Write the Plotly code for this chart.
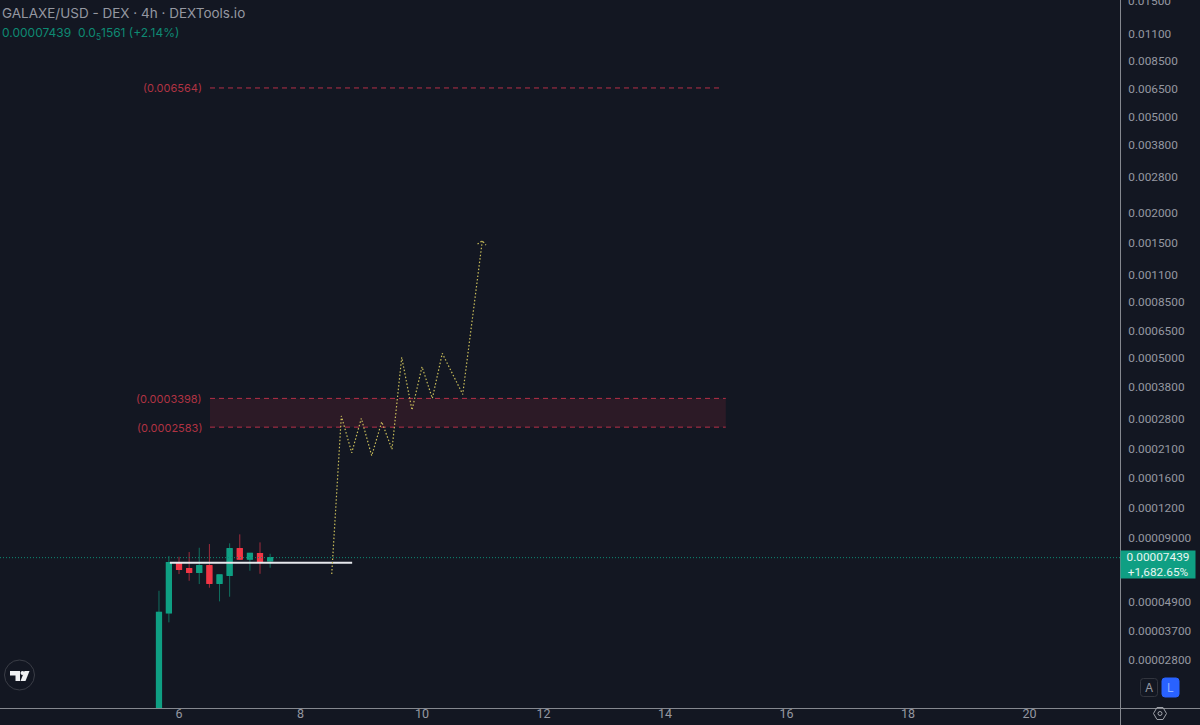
import math
import plotly.graph_objects as go

# Candles, one every four hours
candle_x = [5.67, 5.833, 6.0, 6.167, 6.333, 6.5, 6.667, 6.833, 7.0, 7.167, 7.333, 7.5]
opens = [1.5e-5, 4.40e-5, 7.045e-5, 6.692e-5, 6.465e-5, 6.886e-5, 5.822e-5, 6.282e-5, 8.098e-5, 7.34e-5, 7.721e-5, 7.222e-5]
highs = [5.425e-5, 7.553e-5, 7.503e-5, 7.847e-5, 8.175e-5, 8.469e-5, 6.302e-5, 8.527e-5, 9.289e-5, 7.751e-5, 8.607e-5, 7.721e-5]
lows = [1.5e-5, 4.013e-5, 6.362e-5, 5.968e-5, 5.783e-5, 5.583e-5, 4.903e-5, 5.124e-5, 7.271e-5, 6.565e-5, 6.379e-5, 6.756e-5]
closes = [4.415e-5, 7.086e-5, 6.653e-5, 6.465e-5, 6.886e-5, 5.822e-5, 6.302e-5, 8.098e-5, 7.34e-5, 7.751e-5, 7.181e-5, 7.439e-5]

# Projected path drawn on the chart
path_x = [8.514, 8.672, 8.843, 9.001, 9.172, 9.337, 9.506, 9.666, 9.835, 10.0, 10.17, 10.334, 10.67, 10.993]
path_y = [6.362e-5, 2.872e-4, 2.023e-4, 2.809e-4, 1.966e-4, 2.719e-4, 2.09e-4, 5.026e-4, 3.04e-4, 4.595e-4, 3.399e-4, 5.221e-4, 3.531e-4, 1.528e-3]
arrow_x = [10.914, 10.993, 11.053]
arrow_y = [1.481e-3, 1.528e-3, 1.467e-3]

# Levels
last_price = 7.439e-5
support_level = 7.08e-5
support_x = [5.85, 8.85]
target_level = 0.006564
target_x = [6.51, 14.95]
zone_top = 0.0003398
zone_bottom = 0.0002583
level_x = [6.51, 15.0]

# Axis ticks
top_tick = 0.015
top_label = "0.01500"
price_ticks = [0.011, 0.0085, 0.0065, 0.005, 0.0038, 0.0028, 0.002, 0.0015, 0.0011,
               0.00085, 0.00065, 0.0005, 0.00038, 0.00028, 0.00021, 0.00016, 0.00012,
               0.00009, 0.000049, 0.000037, 0.000028]
price_labels = ["0.01100", "0.008500", "0.006500", "0.005000", "0.003800", "0.002800",
                "0.002000", "0.001500", "0.001100", "0.0008500", "0.0006500", "0.0005000",
                "0.0003800", "0.0002800", "0.0002100", "0.0001600", "0.0001200",
                "0.00009000", "0.00004900", "0.00003700", "0.00002800"]
time_ticks = [6, 8, 10, 12, 14, 16, 18, 20]
x_range = [3.053, 21.49]
y_range = [1.773e-5, 0.01519]

BG = "#131722"
UP = "#0f9f83"
UP_WICK = "#10705f"
DOWN = "#f23645"
DOWN_WICK = "#a02c3c"
RED_LINE = "#b53048"
RED_TEXT = "#b03343"
AXIS_LINE = "#85888f"
TEXT = "#9598a1"
FONT = "Inter"
SCALE_FONT = "Roboto"
W, H = 1200, 725
PLOT_W, PLOT_H = 1120, 708


def px(x):
    return x / PLOT_W


def py(y):
    return 1 - y / PLOT_H


def screen_path(points):
    parts = [f"{'M' if i == 0 else 'L'}{px(a):.5f},{py(b):.5f}" for i, (a, b) in enumerate(points)]
    return " ".join(parts) + " Z"


def rounded_box(x0, y0, x1, y1, r=3):
    corners = [(x0 + r, y0), (x1 - r, y0), (x1, y0 + r), (x1, y1 - r), (x1 - r, y1), (x0 + r, y1), (x0, y1 - r), (x0, y0 + r)]
    p = [(px(a), py(b)) for a, b in corners]
    c = [(px(x1), py(y0)), (px(x1), py(y1)), (px(x0), py(y1)), (px(x0), py(y0))]
    return (f"M{p[0][0]:.5f},{p[0][1]:.5f} L{p[1][0]:.5f},{p[1][1]:.5f} Q{c[0][0]:.5f},{c[0][1]:.5f} {p[2][0]:.5f},{p[2][1]:.5f} "
            f"L{p[3][0]:.5f},{p[3][1]:.5f} Q{c[1][0]:.5f},{c[1][1]:.5f} {p[4][0]:.5f},{p[4][1]:.5f} "
            f"L{p[5][0]:.5f},{p[5][1]:.5f} Q{c[2][0]:.5f},{c[2][1]:.5f} {p[6][0]:.5f},{p[6][1]:.5f} "
            f"L{p[7][0]:.5f},{p[7][1]:.5f} Q{c[3][0]:.5f},{c[3][1]:.5f} {p[0][0]:.5f},{p[0][1]:.5f} Z")


def level_line(xs, level, color, dash, width=1):
    return go.Scatter(x=xs, y=[level, level], mode="lines", hoverinfo="skip", showlegend=False,
                      line=dict(color=color, width=width, dash=dash))


fig = go.Figure()

# Shaded zone between the two lower levels
fig.add_trace(go.Scatter(
    x=[level_x[0], level_x[1], level_x[1], level_x[0], level_x[0]],
    y=[zone_bottom, zone_bottom, zone_top, zone_top, zone_bottom],
    mode="lines", fill="toself", fillcolor="rgba(242,54,69,0.115)", line=dict(width=0),
    hoverinfo="skip", showlegend=False))

fig.add_trace(level_line(x_range, last_price, "#0f8a74", "1px,2px"))

# Wicks first, then the bodies over them in a brighter colour
fig.add_trace(go.Candlestick(
    x=candle_x, open=opens, high=highs, low=lows, close=closes, whiskerwidth=0, showlegend=False,
    increasing=dict(line=dict(color=UP_WICK, width=1), fillcolor=UP),
    decreasing=dict(line=dict(color=DOWN_WICK, width=1), fillcolor=DOWN)))
body_top = [max(a, b) for a, b in zip(opens, closes)]
body_low = [min(a, b) for a, b in zip(opens, closes)]
fig.add_trace(go.Candlestick(
    x=candle_x, open=opens, high=body_top, low=body_low, close=closes, whiskerwidth=0, showlegend=False,
    increasing=dict(line=dict(color=UP, width=1.4), fillcolor=UP),
    decreasing=dict(line=dict(color=DOWN, width=1.4), fillcolor=DOWN)))

fig.add_trace(level_line(support_x, support_level, "#e6e8ec", "solid", 2))
fig.add_trace(level_line(target_x, target_level, RED_LINE, "5px,4px"))
for level in (zone_top, zone_bottom):
    fig.add_trace(level_line(level_x, level, RED_LINE, "5px,4px"))

for xs, ys in ((path_x, path_y), (arrow_x, arrow_y)):
    fig.add_trace(go.Scatter(x=xs, y=ys, mode="lines", hoverinfo="skip", showlegend=False,
                             line=dict(color="#c9bd5a", width=1.2, dash="1.5px,2px")))

annotations = []


def note(text, x, y, size=12, color=TEXT, anchor="left", family=FONT):
    annotations.append(dict(text=text, x=px(x), y=py(y), xref="paper", yref="paper", showarrow=False,
                            xanchor=anchor, yanchor="middle", font=dict(family=family, size=size, color=color)))


note("GALAXE/USD - DEX · 4h · DEXTools.io", 0, 13.5, size=13.5)
note("0.00007439  0.0<sub>5</sub>1561 (+2.14%)", 0, 34, size=12, color="#0e8a73")
for label, level in (("(0.006564)", target_level), ("(0.0003398)", zone_top), ("(0.0002583)", zone_bottom)):
    annotations.append(dict(text=label, x=px(204), y=math.log10(level), xref="paper", yref="y", showarrow=False,
                            xanchor="right", yanchor="middle", yshift=-0.5,
                            font=dict(family=FONT, size=11, color=RED_TEXT)))

# Top price-scale label, kept apart because it sits on the edge of the plot
annotations.append(dict(text=top_label, x=1, y=math.log10(top_tick), xref="paper", yref="y", showarrow=False,
                        xanchor="left", yanchor="middle", xshift=6, font=dict(family=SCALE_FONT, size=11.8, color=TEXT)))

# Last-price badge on the price scale
annotations.append(dict(text="0.00007439<br>+1,682.65%", x=1, y=math.log10(last_price), xref="paper", yref="y",
                        yshift=-7, xanchor="left", yanchor="middle", showarrow=False, bgcolor=UP, width=74, height=27,
                        borderpad=0, align="center", font=dict(family=SCALE_FONT, size=11.8, color="#e8f5f1")))

note("A", 1149, 687.5, size=12, color=TEXT, anchor="center")
note("L", 1170.5, 687.5, size=12, color="#8fb0ff", anchor="center")

shapes = [
    # price-scale and time-scale borders
    dict(type="line", xref="paper", yref="paper", x0=px(1120.5), x1=px(1120.5), y0=py(0), y1=py(725),
         line=dict(color=AXIS_LINE, width=1)),
    dict(type="line", xref="paper", yref="paper", x0=0, x1=px(1200), y0=py(708.5), y1=py(708.5),
         line=dict(color=AXIS_LINE, width=1)),
    # auto and log buttons
    dict(type="path", xref="paper", yref="paper", path=rounded_box(1140.5, 678.5, 1157.5, 696.5),
         line=dict(color="#33363f", width=1), fillcolor="rgba(0,0,0,0)"),
    dict(type="path", xref="paper", yref="paper", path=rounded_box(1162, 678, 1179, 697),
         line=dict(color="#2962ff", width=1), fillcolor="#2962ff", layer="below"),
    # settings glyph
    dict(type="path", xref="paper", yref="paper",
         path=screen_path([(1153.5, 713.5), (1157, 707.5), (1163, 707.5), (1166.5, 713.5), (1163, 719.5), (1157, 719.5)]),
         line=dict(color="#a0a3aa", width=1), fillcolor="rgba(0,0,0,0)"),
    dict(type="circle", xref="paper", yref="paper", x0=px(1158), x1=px(1162), y0=py(711.5), y1=py(715.5),
         line=dict(color="#a0a3aa", width=1)),
    # logo
    dict(type="circle", xref="paper", yref="paper", x0=px(4.5), x1=px(34.5), y0=py(660), y1=py(690),
         line=dict(color="#3a3d46", width=1)),
    dict(type="path", xref="paper", yref="paper",
         path=screen_path([(10, 671), (20, 671), (20, 681), (15.5, 681), (15.5, 675.5), (10, 675.5)]),
         line=dict(width=0), fillcolor="#f0f1f3"),
    dict(type="circle", xref="paper", yref="paper", x0=px(20.5), x1=px(24.5), y0=py(671), y1=py(675),
         line=dict(width=0), fillcolor="#f0f1f3"),
    dict(type="path", xref="paper", yref="paper",
         path=screen_path([(24.5, 671), (29.5, 671), (25.5, 681), (20.5, 681)]),
         line=dict(width=0), fillcolor="#f0f1f3"),
]

fig.update_layout(
    width=W, height=H, margin=dict(l=0, r=W - PLOT_W, t=0, b=H - PLOT_H),
    paper_bgcolor=BG, plot_bgcolor=BG, showlegend=False,
    annotations=annotations, shapes=shapes,
    font=dict(family=FONT, color=TEXT, size=12),
    xaxis=dict(type="linear", range=x_range, tickvals=time_ticks, ticktext=[str(t) for t in time_ticks],
               showgrid=False, zeroline=False, showline=False, ticks="", rangeslider=dict(visible=False),
               ticklabelstandoff=-4, tickfont=dict(family=SCALE_FONT, size=12.5, color=TEXT)),
    yaxis=dict(type="log", side="right", range=[math.log10(v) for v in y_range], tickvals=price_ticks,
               ticktext=price_labels, showgrid=False, zeroline=False, showline=False,
               ticks="outside", ticklen=5, tickcolor="rgba(0,0,0,0)",
               tickfont=dict(family=SCALE_FONT, size=11.8, color=TEXT)),
)

fig.write_html("out.html")
